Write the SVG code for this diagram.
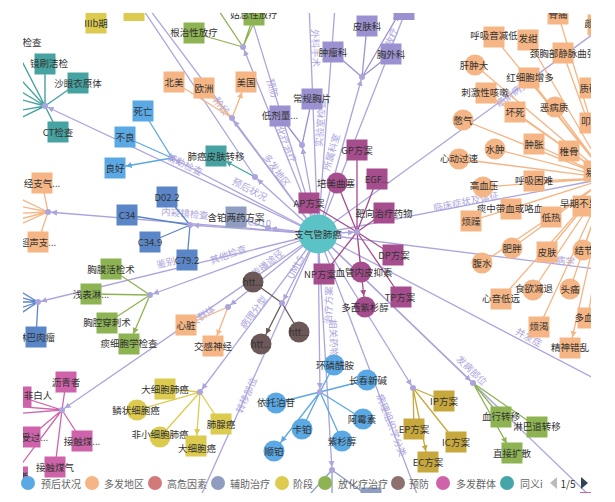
<svg xmlns="http://www.w3.org/2000/svg" width="615" height="502" viewBox="0 0 615 502">
<style>
text{font-family:"Noto Sans CJK SC","Noto Sans",sans-serif}
.e{fill:none;stroke:#aca5dd;stroke-width:1.3;marker-end:url(#mL)}
.e0{fill:none;stroke:#aca5dd;stroke-width:1.3}
.el{font-size:9.5px;fill:#aca5dd;text-anchor:middle;dominant-baseline:central}
.t{font-size:9.5px;fill:#333;text-anchor:middle;dominant-baseline:central}
.h{fill:#aca5dd}
.ct{stroke:#46a3a1;stroke-width:1.4;marker-end:url(#mT)}
.cb{stroke:#5aa8e4;stroke-width:1.3;marker-end:url(#mB)}
.cd{stroke:#5a86c8;stroke-width:1.3;marker-end:url(#mD)}
.co{stroke:#f5b584;stroke-width:1.3;marker-end:url(#mO)}
.cy{stroke:#dccb4e;stroke-width:1.3;marker-end:url(#mY)}
.cg{stroke:#8db352;stroke-width:1.3;marker-end:url(#mG)}
.cp{stroke:#9c91d0;stroke-width:1.3;marker-end:url(#mP)}
.cm{stroke:#a64d8e;stroke-width:1.3;marker-end:url(#mM)}
.cr{stroke:#6c5858;stroke-width:1.3;marker-end:url(#mR)}
.cl{stroke:#c7a83c;stroke-width:1.3;marker-end:url(#mGo)}
.cs{stroke:#8e9dc0;stroke-width:1.3;marker-end:url(#mS)}
.ck{stroke:#cf63aa;stroke-width:1.3;marker-end:url(#mK)}
.ft{fill:#46a3a1}.fb{fill:#5aa8e4}.fd{fill:#5a86c8}.fo{fill:#f5b584}.fy{fill:#dccb4e}.fg{fill:#8db352}
.fp{fill:#9c91d0}.fm{fill:#a64d8e}.fr{fill:#6c5858}.fl{fill:#c7a83c}.fs{fill:#8e9dc0}.fk{fill:#cf63aa}
.lg{font-size:10px;fill:#666;dominant-baseline:central}
</style>
<defs>
<clipPath id="cp"><rect x="23" y="13" width="568" height="480"/></clipPath>
<marker id="mL" markerWidth="12" markerHeight="8" refX="9" refY="3" orient="auto" markerUnits="userSpaceOnUse"><path d="M0,0L6,3L0,6z" fill="#aca5dd"/></marker>
<marker id="mT" markerWidth="20" markerHeight="8" refX="17" refY="3" orient="auto" markerUnits="userSpaceOnUse"><path d="M0,0L6,3L0,6z" fill="#46a3a1"/></marker>
<marker id="mB" markerWidth="20" markerHeight="8" refX="17" refY="3" orient="auto" markerUnits="userSpaceOnUse"><path d="M0,0L6,3L0,6z" fill="#5aa8e4"/></marker>
<marker id="mD" markerWidth="20" markerHeight="8" refX="17" refY="3" orient="auto" markerUnits="userSpaceOnUse"><path d="M0,0L6,3L0,6z" fill="#5a86c8"/></marker>
<marker id="mO" markerWidth="20" markerHeight="8" refX="17" refY="3" orient="auto" markerUnits="userSpaceOnUse"><path d="M0,0L6,3L0,6z" fill="#f5b584"/></marker>
<marker id="mY" markerWidth="20" markerHeight="8" refX="17" refY="3" orient="auto" markerUnits="userSpaceOnUse"><path d="M0,0L6,3L0,6z" fill="#dccb4e"/></marker>
<marker id="mG" markerWidth="20" markerHeight="8" refX="17" refY="3" orient="auto" markerUnits="userSpaceOnUse"><path d="M0,0L6,3L0,6z" fill="#8db352"/></marker>
<marker id="mP" markerWidth="20" markerHeight="8" refX="17" refY="3" orient="auto" markerUnits="userSpaceOnUse"><path d="M0,0L6,3L0,6z" fill="#9c91d0"/></marker>
<marker id="mM" markerWidth="20" markerHeight="8" refX="17" refY="3" orient="auto" markerUnits="userSpaceOnUse"><path d="M0,0L6,3L0,6z" fill="#a64d8e"/></marker>
<marker id="mR" markerWidth="20" markerHeight="8" refX="17" refY="3" orient="auto" markerUnits="userSpaceOnUse"><path d="M0,0L6,3L0,6z" fill="#6c5858"/></marker>
<marker id="mGo" markerWidth="20" markerHeight="8" refX="17" refY="3" orient="auto" markerUnits="userSpaceOnUse"><path d="M0,0L6,3L0,6z" fill="#c7a83c"/></marker>
<marker id="mS" markerWidth="20" markerHeight="8" refX="17" refY="3" orient="auto" markerUnits="userSpaceOnUse"><path d="M0,0L6,3L0,6z" fill="#8e9dc0"/></marker>
<marker id="mK" markerWidth="20" markerHeight="8" refX="17" refY="3" orient="auto" markerUnits="userSpaceOnUse"><path d="M0,0L6,3L0,6z" fill="#cf63aa"/></marker>
</defs>
<rect width="615" height="502" fill="#fff"/>
<g clip-path="url(#cp)">
<g id="connectors">
<path class="e" d="M318,234L45,106"/>
<path class="e0" d="M318,234L126,-22"/>
<path class="e" d="M318,234L172,158"/>
<path class="e" d="M318,234L255,177"/>
<path class="e0" d="M120,-25L255,177"/>
<path class="e" d="M318,234L232,118"/>
<path class="e" d="M318,234L243,47"/>
<path class="e0" d="M318,234L228,-58"/>
<path class="e" d="M318,234L302,145"/>
<path class="e0" d="M318,234L305,-100"/>
<path class="e0" d="M318,234L343,-100"/>
<path class="e" d="M318,234L362,77"/>
<path class="e0" d="M318,234L410,0"/>
<path class="e0" d="M318,234L706,-48"/>
<path class="e" d="M318,234L608,178"/>
<path class="e0" d="M318,234L700,282"/>
<path class="e0" d="M318,234L620,392"/>
<path class="e" d="M318,234L473,383"/>
<path class="e0" d="M318,234L620,525"/>
<path class="e" d="M318,234L413,388"/>
<path class="e0" d="M318,234L420,502"/>
<path class="e" d="M318,234L320,392"/>
<path class="e" d="M318,234L332,470"/>
<path class="e0" d="M318,234L174,556"/>
<path class="e" d="M318,234L200,392"/>
<path class="e" d="M318,234L282,303"/>
<path class="e" d="M318,234L228,307"/>
<path class="e" d="M318,234L62,410"/>
<path class="e" d="M318,234L150,295"/>
<path class="e" d="M318,234L38,302"/>
<path class="e" d="M318,234L48,212"/>
<path class="e" d="M318,234L190,225"/>
<path class="e" d="M318,234L268,228"/>
<path class="e" d="M318,234L357,232"/>
<text class="el" transform="translate(185,164) rotate(25)">辅助检查</text>
<text class="el" transform="translate(222,106) rotate(53)">阶段</text>
<text class="el" transform="translate(250,189) rotate(27.5)">预后状况</text>
<text class="el" transform="translate(277,170) rotate(53.5)">多发地区</text>
<text class="el" transform="translate(285,140) rotate(68)">放化疗治疗</text>
<text class="el" transform="translate(273,88) rotate(73)">预防</text>
<text class="el" transform="translate(316,48) rotate(88)">外科手术</text>
<text class="el" transform="translate(320,123) rotate(-86)">实验室检查</text>
<text class="el" transform="translate(331,152) rotate(-74)">所属科室</text>
<text class="el" transform="translate(391,37) rotate(-68)">放疗</text>
<text class="el" transform="translate(512,93) rotate(-36)">癌前病变</text>
<text class="el" transform="translate(466,201) rotate(-11)">临床症状及体征</text>
<text class="el" transform="translate(556,259) rotate(7)">流行病学</text>
<text class="el" transform="translate(529,337) rotate(28)">并发症</text>
<text class="el" transform="translate(472,370) rotate(44)">发病部位</text>
<text class="el" transform="translate(392,425) rotate(69)">病理组织学分类</text>
<text class="el" transform="translate(328,305) rotate(-88)">治疗方案</text>
<text class="el" transform="translate(334,338) rotate(88)">相关药物</text>
<text class="el" transform="translate(246,395) rotate(-66)">转移部位</text>
<text class="el" transform="translate(253,312) rotate(-53)">病理分型</text>
<text class="el" transform="translate(295,267) rotate(-62)">UMLS</text>
<text class="el" transform="translate(267,263) rotate(-39)">传播途径</text>
<text class="el" transform="translate(198,318) rotate(-34.5)">多发群体</text>
<text class="el" transform="translate(228,254) rotate(-20)">其他检查</text>
<text class="el" transform="translate(175,260) rotate(-13.4)">鉴别诊断</text>
<text class="el" transform="translate(185,213) rotate(4.7)">内窥镜检查</text>
<text class="el" transform="translate(258,222) rotate(4)">ICD10</text>
<path class="ct" d="M45,106L45,64M45,106L78,83M45,106L58,132M45,106L12,42M45,106L0,57M45,106L0,79M45,106L0,94M45,106L0,114M45,106L0,128M255,177L216,156"/>
<path class="cb" d="M172,158L143,111M172,158L125,137M172,158L115,168"/>
<path class="co" d="M232,118L174,82M232,118L204,88M232,118L246,82"/>
<path class="cg" d="M243,47L194,33M243,47L254,15M243,47L262,5M243,47L205,-10"/>
<path class="cp" d="M302,145L280,116M302,145L312,99M362,77L333,52M362,77L367,26M362,77L391,54M362,77L404,5"/>
<path class="cd" d="M190,225L167,197M190,225L127,215M190,225L150,242M190,225L187,260M38,302L36,337M38,302L0,279M38,302L0,292M38,302L0,302M38,302L0,315M38,302L0,327"/>
<path class="cs" d="M268,228L236,217M332,470L371,498M332,470L300,505M332,470L332,510"/>
<path class="co" d="M48,212L42,183M48,212L38,242M48,212L0,189M48,212L0,202M48,212L0,214M48,212L0,224M48,212L0,233"/>
<path class="cg" d="M150,295L111,269M150,295L91,294M150,295L107,323M150,295L129,344"/>
<path class="ck" d="M62,410L66,382M62,410L21,397M62,410L30,437M62,410L82,441M62,410L55,467M62,410L12,477M62,410L0,405M62,410L0,415"/>
<path class="cy" d="M200,392L165,389M200,392L137,410M200,392L160,437M200,392L221,424M200,392L196,446"/>
<path class="cr" d="M282,303L253,282M282,303L299,332M282,303L261,344"/>
<path class="co" d="M228,307L186,325M228,307L213,346"/>
<path class="cb" d="M320,392L334,365M320,392L367,380M320,392L276,403M320,392L302,429M320,392L363,419M320,392L342,441M320,392L274,451"/>
<path class="cl" d="M413,388L444,401M413,388L414,429M413,388L456,442M413,388L428,462"/>
<path class="cg" d="M473,383L501,417M473,383L537,427M473,383L512,453"/>
<path class="cm" d="M357,232L357,150M357,232L337,183M357,232L377,179M357,232L384,213M357,232L309,203M357,232L393,255M357,232L324,274M357,232L361,272M357,232L401,297M357,232L365,307"/>
<path class="co" d="M608,178L558,14M608,178L598,25M608,178L494,37M608,178L528,40M608,178L563,53M608,178L475,65M608,178L529,78M608,178L486,93M608,178L590,88M608,178L555,107M608,178L515,112M608,178L463,120M608,178L590,123M608,178L534,144M608,178L495,149M608,178L569,151M608,178L459,159M608,178L594,171M608,178L483,187M608,178L534,181M608,178L583,206M608,178L511,209M608,178L551,217M608,178L471,221M608,178L512,248M608,178L547,252M608,178L583,250M608,178L482,263M608,178L533,290M608,178L570,289M608,178L501,299M608,178L539,327M608,178L588,318M608,178L570,348"/>
<g class="h">
<circle cx="45" cy="106" r="3"/><circle cx="172" cy="158" r="3"/><circle cx="255" cy="177" r="3"/><circle cx="232" cy="118" r="3"/><circle cx="243" cy="47" r="3"/><circle cx="302" cy="145" r="3"/><circle cx="362" cy="77" r="3"/><circle cx="190" cy="225" r="3"/><circle cx="268" cy="228" r="3"/><circle cx="48" cy="212" r="3"/><circle cx="150" cy="295" r="3"/><circle cx="38" cy="302" r="3"/><circle cx="62" cy="410" r="3"/><circle cx="200" cy="392" r="3"/><circle cx="282" cy="303" r="3"/><circle cx="228" cy="307" r="3"/><circle cx="320" cy="392" r="3"/><circle cx="332" cy="470" r="3"/><circle cx="413" cy="388" r="3"/><circle cx="473" cy="383" r="3"/><circle cx="357" cy="232" r="3"/>
</g>
</g>
<g id="center"><circle cx="318" cy="234" r="19.5" fill="#5bc3c5"/><text class="t" x="318" y="234">支气管肺癌</text></g>
<g id="n-shuajian"><rect class="ft" x="34.5" y="53.5" width="21" height="21"/><text class="t" x="68" y="63" style="text-anchor:end">镜刷洁检</text></g>
<g id="n-shayan"><rect class="ft" x="67.5" y="72.5" width="21" height="21"/><text class="t" x="78" y="83">沙眼衣原体</text></g>
<g id="n-ct"><rect class="ft" x="47.5" y="121.5" width="21" height="21"/><text class="t" x="58" y="132">CT检查</text></g>
<g id="n-jiancha"><rect class="ft" x="1.5" y="31.5" width="21" height="21"/><text class="t" x="32" y="42">检查</text></g>
<g id="n-pifu"><rect class="ft" x="205.5" y="145.5" width="21" height="21"/><text class="t" x="216" y="156">肺癌皮肤转移</text></g>
<g id="n-y1"><rect class="fy" x="47.5" y="-8" width="21" height="21"/></g>
<g id="n-iiib"><rect class="fy" x="85.5" y="12.5" width="21" height="21"/><text class="t" x="96" y="23">IIIb期</text></g>
<g id="n-y3"><rect class="fy" x="123.5" y="0" width="21" height="21"/></g>
<g id="n-siwang"><rect class="fb" x="132.5" y="100.5" width="21" height="21"/><text class="t" x="143" y="111">死亡</text></g>
<g id="n-buliang"><rect class="fb" x="114.5" y="126.5" width="21" height="21"/><text class="t" x="125" y="137">不良</text></g>
<g id="n-lianghao"><rect class="fb" x="104.5" y="157.5" width="21" height="21"/><text class="t" x="115" y="168">良好</text></g>
<g id="n-beimei"><rect class="fo" x="163.5" y="71.5" width="21" height="21"/><text class="t" x="174" y="82">北美</text></g>
<g id="n-ouzhou"><rect class="fo" x="193.5" y="77.5" width="21" height="21"/><text class="t" x="204" y="88">欧洲</text></g>
<g id="n-meiguo"><rect class="fo" x="235.5" y="71.5" width="21" height="21"/><text class="t" x="246" y="82">美国</text></g>
<g id="n-genzhi"><rect class="fg" x="183.5" y="22.5" width="21" height="21"/><text class="t" x="194" y="32">根治性放疗</text></g>
<g id="n-guxi"><rect class="fg" x="243.5" y="4.5" width="21" height="21"/><text class="t" x="254" y="14">姑息性放疗</text></g>
<g id="n-dijiliang"><rect class="fp" x="269.5" y="105.5" width="21" height="21"/><text class="t" x="280" y="115">低剂量...</text></g>
<g id="n-changgui"><rect class="fp" x="301.5" y="88.5" width="21" height="21"/><text class="t" x="312" y="98">常规胸片</text></g>
<g id="n-zhongliu"><rect class="fp" x="322.5" y="41.5" width="21" height="21"/><text class="t" x="333" y="52">肿瘤科</text></g>
<g id="n-pifuke"><rect class="fp" x="356.5" y="15.5" width="21" height="21"/><text class="t" x="367" y="26">皮肤科</text></g>
<g id="n-xiongwai"><rect class="fp" x="380.5" y="43.5" width="21" height="21"/><text class="t" x="391" y="54">胸外科</text></g>
<g id="n-p4"><rect class="fp" x="393.5" y="-1" width="21" height="21"/></g>
<g id="n-d022"><rect class="fd" x="156.5" y="186.5" width="21" height="21"/><text class="t" x="167" y="197">D02.2</text></g>
<g id="n-c34"><rect class="fd" x="116.5" y="204.5" width="21" height="21"/><text class="t" x="127" y="215">C34</text></g>
<g id="n-c349"><rect class="fd" x="139.5" y="231.5" width="21" height="21"/><text class="t" x="150" y="242">C34.9</text></g>
<g id="n-c792"><rect class="fd" x="176.5" y="249.5" width="21" height="21"/><text class="t" x="187" y="260">C79.2</text></g>
<g id="n-hanbo"><rect class="fs" x="225.5" y="206.5" width="21" height="21"/><text class="t" x="236" y="217">含铂两药方案</text></g>
<g id="n-jingzhi"><rect class="fo" x="31.5" y="172.5" width="21" height="21"/><text class="t" x="42" y="183">经支气...</text></g>
<g id="n-chaosheng"><rect class="fo" x="27.5" y="231.5" width="21" height="21"/><text class="t" x="38" y="242">超声支...</text></g>
<g id="n-xiongmo"><rect class="fg" x="100.5" y="258.5" width="21" height="21"/><text class="t" x="111" y="269">胸膜活检术</text></g>
<g id="n-qianbiao"><rect class="fg" x="80.5" y="283.5" width="21" height="21"/><text class="t" x="91" y="294">浅表淋...</text></g>
<g id="n-xiongqiang"><rect class="fg" x="96.5" y="312.5" width="21" height="21"/><text class="t" x="107" y="322">胸腔穿刺术</text></g>
<g id="n-tanxibao"><rect class="fg" x="118.5" y="333.5" width="21" height="21"/><text class="t" x="129" y="343">痰细胞学检查</text></g>
<g id="n-linba"><rect class="fd" x="25.5" y="326.5" width="21" height="21"/><text class="t" x="36" y="337">淋巴肉瘤</text></g>
<g id="n-liqing"><rect class="fk" x="55.5" y="371.5" width="21" height="21"/><text class="t" x="66" y="382">沥青者</text></g>
<g id="n-bairen"><rect class="fk" x="10.5" y="386.5" width="21" height="21"/><text class="t" x="38" y="395">非白人</text></g>
<g id="n-shouguo"><rect class="fk" x="19.5" y="426.5" width="21" height="21"/><text class="t" x="30" y="437">曾受过...</text></g>
<g id="n-jiechumei"><rect class="fk" x="71.5" y="430.5" width="21" height="21"/><text class="t" x="82" y="441">接触煤...</text></g>
<g id="n-meiqi"><rect class="fk" x="44.5" y="456.5" width="21" height="21"/><text class="t" x="55" y="467">接触煤气</text></g>
<g id="n-xiyan"><rect class="fk" x="7" y="466.5" width="21" height="21"/><text class="t" x="14" y="476">吸烟者</text></g>
<g id="n-daxibaofei"><rect class="fy" x="154.5" y="378.5" width="21" height="21"/><text class="t" x="165" y="389">大细胞肺癌</text></g>
<g id="n-linzhuang"><circle class="fy" cx="137" cy="410" r="10.5"/><text class="t" x="136" y="410">鳞状细胞癌</text></g>
<g id="n-feixiao"><circle class="fy" cx="160" cy="437" r="10.5"/><text class="t" x="160" y="434">非小细胞肺癌</text></g>
<g id="n-xianai"><rect class="fy" x="210.5" y="413.5" width="21" height="21"/><text class="t" x="221" y="424">肺腺癌</text></g>
<g id="n-daxibao"><rect class="fy" x="185.5" y="435.5" width="21" height="21"/><text class="t" x="197" y="448">大细胞癌</text></g>
<g id="n-htt1"><circle class="fr" cx="253" cy="282" r="10.5"/><text class="t" x="253" y="282">htt...</text></g>
<g id="n-htt2"><circle class="fr" cx="299" cy="332" r="10.5"/><text class="t" x="299" y="332">htt...</text></g>
<g id="n-htt3"><circle class="fr" cx="261" cy="344" r="10.5"/><text class="t" x="261" y="344">htt...</text></g>
<g id="n-xinzang"><rect class="fo" x="175.5" y="314.5" width="21" height="21"/><text class="t" x="186" y="325">心脏</text></g>
<g id="n-jiaogan"><rect class="fo" x="202.5" y="335.5" width="21" height="21"/><text class="t" x="213" y="346">交感神经</text></g>
<g id="n-huanlin"><circle class="fb" cx="334" cy="365" r="10.5"/><text class="t" x="335" y="365">环磷酰胺</text></g>
<g id="n-changchun"><circle class="fb" cx="367" cy="380" r="10.5"/><text class="t" x="368" y="380">长春新碱</text></g>
<g id="n-yituo"><circle class="fb" cx="276" cy="403" r="10.5"/><text class="t" x="276" y="402">依托泊苷</text></g>
<g id="n-kabo"><circle class="fb" cx="302" cy="429" r="10.5"/><text class="t" x="302" y="429">卡铂</text></g>
<g id="n-ameisu"><circle class="fb" cx="363" cy="419" r="10.5"/><text class="t" x="362" y="419">阿霉素</text></g>
<g id="n-zishan"><circle class="fb" cx="342" cy="441" r="10.5"/><text class="t" x="342" y="441">紫杉醇</text></g>
<g id="n-shunbo"><circle class="fb" cx="274" cy="451" r="10.5"/><text class="t" x="274" y="451">顺铂</text></g>
<g id="n-s2"><rect class="fs" x="360.5" y="487.5" width="21" height="21"/></g>
<g id="n-ip"><rect class="fl" x="433.5" y="390.5" width="21" height="21"/><text class="t" x="444" y="401">IP方案</text></g>
<g id="n-ep"><rect class="fl" x="403.5" y="418.5" width="21" height="21"/><text class="t" x="414" y="429">EP方案</text></g>
<g id="n-ic"><rect class="fl" x="445.5" y="431.5" width="21" height="21"/><text class="t" x="456" y="442">IC方案</text></g>
<g id="n-ec"><rect class="fl" x="417.5" y="451.5" width="21" height="21"/><text class="t" x="428" y="462">EC方案</text></g>
<g id="n-xuexing"><rect class="fg" x="490.5" y="406.5" width="21" height="21"/><text class="t" x="501" y="416">血行转移</text></g>
<g id="n-linbadao"><rect class="fg" x="526.5" y="416.5" width="21" height="21"/><text class="t" x="537" y="426">淋巴道转移</text></g>
<g id="n-zhijie"><rect class="fg" x="501.5" y="442.5" width="21" height="21"/><text class="t" x="512" y="453">直接扩散</text></g>
<g id="n-k2"><rect class="fk" x="580" y="492" width="21" height="21"/></g>
<g id="n-gp"><rect class="fm" x="346.5" y="139.5" width="21" height="21"/><text class="t" x="357" y="150">GP方案</text></g>
<g id="n-peimei"><circle class="fm" cx="337" cy="183" r="10.5"/><text class="t" x="336" y="183">培美曲塞</text></g>
<g id="n-egf"><rect class="fm" x="366.5" y="168.5" width="21" height="21"/><text class="t" x="377" y="179">EGF...</text></g>
<g id="n-baxiang"><rect class="fm" x="373.5" y="202.5" width="21" height="21"/><text class="t" x="384" y="213">靶向治疗药物</text></g>
<g id="n-ap"><rect class="fm" x="298.5" y="192.5" width="21" height="21"/><text class="t" x="309" y="203">AP方案</text></g>
<g id="n-dp"><rect class="fm" x="382.5" y="244.5" width="21" height="21"/><text class="t" x="394" y="255">DP方案</text></g>
<g id="n-np"><rect class="fm" x="313.5" y="263.5" width="21" height="21"/><text class="t" x="320" y="274">NP方案</text></g>
<g id="n-xueguan"><circle class="fm" cx="361" cy="272" r="10.5"/><text class="t" x="364" y="272">血管内皮抑素</text></g>
<g id="n-tp"><rect class="fm" x="390.5" y="286.5" width="21" height="21"/><text class="t" x="400" y="297">TP方案</text></g>
<g id="n-duoxi"><circle class="fm" cx="365" cy="307" r="10.5"/><text class="t" x="365" y="307">多西紫杉醇</text></g>
<g id="n-o1"><rect class="fo" x="547.5" y="3.5" width="21" height="21"/><text class="t" x="558" y="14">骨痛</text></g>
<g id="n-o2"><rect class="fo" x="587.5" y="14.5" width="21" height="21"/><text class="t" x="598" y="23">颜面...</text></g>
<g id="n-o3"><rect class="fo" x="483.5" y="26.5" width="21" height="21"/><text class="t" x="494" y="35">呼吸音减低</text></g>
<g id="n-o4"><rect class="fo" x="517.5" y="29.5" width="21" height="21"/><text class="t" x="528" y="38">发绀</text></g>
<g id="n-o5"><rect class="fo" x="552.5" y="42.5" width="21" height="21"/><text class="t" x="563" y="53">颈胸部静脉曲张</text></g>
<g id="n-o6"><circle class="fo" cx="475" cy="65" r="10.5"/><text class="t" x="474" y="65">肝肿大</text></g>
<g id="n-o7"><rect class="fo" x="518.5" y="67.5" width="21" height="21"/><text class="t" x="530" y="77">红细胞增多</text></g>
<g id="n-o8"><rect class="fo" x="475.5" y="82.5" width="21" height="21"/><text class="t" x="485" y="92">刺激性咳嗽</text></g>
<g id="n-o9"><rect class="fo" x="579.5" y="77.5" width="21" height="21"/><text class="t" x="589" y="88">质硬</text></g>
<g id="n-o10"><circle class="fo" cx="555" cy="107" r="10.5"/><text class="t" x="554" y="107">恶病质</text></g>
<g id="n-o11"><rect class="fo" x="504.5" y="101.5" width="21" height="21"/><text class="t" x="515" y="112">坏死</text></g>
<g id="n-o12"><circle class="fo" cx="463" cy="120" r="10.5"/><text class="t" x="463" y="120">憋气</text></g>
<g id="n-o13"><rect class="fo" x="579.5" y="112.5" width="21" height="21"/><text class="t" x="590" y="121">叩...</text></g>
<g id="n-o14"><rect class="fo" x="523.5" y="133.5" width="21" height="21"/><text class="t" x="534" y="144">肿胀</text></g>
<g id="n-o15"><circle class="fo" cx="495" cy="149" r="10.5"/><text class="t" x="495" y="149">水肿</text></g>
<g id="n-o16"><rect class="fo" x="558.5" y="140.5" width="21" height="21"/><text class="t" x="569" y="151">椎骨</text></g>
<g id="n-o17"><circle class="fo" cx="459" cy="159" r="10.5"/><text class="t" x="459" y="158">心动过速</text></g>
<g id="n-o18"><rect class="fo" x="583.5" y="160.5" width="21" height="21"/><text class="t" x="594" y="172">易...</text></g>
<g id="n-o19"><circle class="fo" cx="483" cy="187" r="10.5"/><text class="t" x="484" y="185">高血压</text></g>
<g id="n-o20"><rect class="fo" x="523.5" y="170.5" width="21" height="21"/><text class="t" x="534" y="180">呼吸困难</text></g>
<g id="n-o21"><rect class="fo" x="572.5" y="195.5" width="21" height="21"/><text class="t" x="583" y="203">早期不显...</text></g>
<g id="n-o22"><rect class="fo" x="500.5" y="198.5" width="21" height="21"/><text class="t" x="510" y="208">痰中带血或咯血</text></g>
<g id="n-o23"><rect class="fo" x="540.5" y="206.5" width="21" height="21"/><text class="t" x="551" y="217">低热</text></g>
<g id="n-o24"><rect class="fo" x="460.5" y="210.5" width="21" height="21"/><text class="t" x="471" y="221">烦躁</text></g>
<g id="n-o25"><circle class="fo" cx="512" cy="248" r="10.5"/><text class="t" x="512" y="248">肥胖</text></g>
<g id="n-o26"><rect class="fo" x="536.5" y="241.5" width="21" height="21"/><text class="t" x="547" y="252">皮肤</text></g>
<g id="n-o27"><circle class="fo" cx="583" cy="250" r="10.5"/><text class="t" x="584" y="250">结节</text></g>
<g id="n-o28"><circle class="fo" cx="482" cy="263" r="10.5"/><text class="t" x="482" y="263">腹水</text></g>
<g id="n-o29"><circle class="fo" cx="533" cy="290" r="10.5"/><text class="t" x="534" y="288">食欲减退</text></g>
<g id="n-o30"><circle class="fo" cx="570" cy="289" r="10.5"/><text class="t" x="570" y="289">头痛</text></g>
<g id="n-o31"><rect class="fo" x="490.5" y="288.5" width="21" height="21"/><text class="t" x="501" y="298">心音低远</text></g>
<g id="n-o32"><rect class="fo" x="528.5" y="316.5" width="21" height="21"/><text class="t" x="539" y="326">烦渴</text></g>
<g id="n-o33"><rect class="fo" x="577.5" y="307.5" width="21" height="21"/><text class="t" x="588" y="317">多血...</text></g>
<g id="n-o34"><rect class="fo" x="559.5" y="337.5" width="21" height="21"/><text class="t" x="570" y="347">精神错乱</text></g>
</g>
<g id="legend">
<circle cx="28" cy="483" r="7" fill="#5aa8e4"/><text class="lg" x="41" y="483">预后状况</text>
<circle cx="92" cy="483" r="7" fill="#f5b584"/><text class="lg" x="104" y="483">多发地区</text>
<circle cx="155" cy="483" r="7" fill="#d27a7a"/><text class="lg" x="167" y="483">高危因素</text>
<circle cx="218" cy="483" r="7" fill="#8e9dc0"/><text class="lg" x="230" y="483">辅助治疗</text>
<circle cx="282" cy="483" r="7" fill="#dccb4e"/><text class="lg" x="293" y="483">阶段</text>
<circle cx="325" cy="483" r="7" fill="#8db352"/><text class="lg" x="338" y="483">放化疗治疗</text>
<circle cx="398" cy="483" r="7" fill="#8f7070"/><text class="lg" x="409" y="483">预防</text>
<circle cx="443" cy="483" r="7" fill="#cf63aa"/><text class="lg" x="456" y="483">多发群体</text>
<circle cx="507" cy="483" r="7" fill="#46a5a8"/><text class="lg" x="520" y="483">同义i</text>
<path d="M557,477L550,483L557,489z" fill="#bbb"/>
<text class="lg" x="568" y="483" style="text-anchor:middle;fill:#333">1/5</text>
<path d="M581,477L588,483L581,489z" fill="#2f4554"/>
</g>
</svg>
